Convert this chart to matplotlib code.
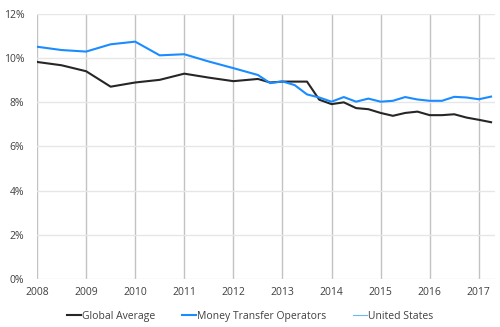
import numpy as np
import matplotlib
matplotlib.use('Agg')
import matplotlib.pyplot as plt
from matplotlib.ticker import FuncFormatter

# time points (semiannual up to 2012, then quarterly)
periods = [2008.0, 2008.5, 2009.0, 2009.5, 2010.0, 2010.5, 2011.0, 2011.5,
           2012.0, 2012.5, 2012.75, 2013.0, 2013.25, 2013.5, 2013.75,
           2014.0, 2014.25, 2014.5, 2014.75, 2015.0, 2015.25, 2015.5, 2015.75,
           2016.0, 2016.25, 2016.5, 2016.75, 2017.0, 2017.25]

global_average = [9.83, 9.68, 9.41, 8.71, 8.90, 9.02, 9.30, 9.12,
                  8.96, 9.06, 8.90, 8.94, 8.94, 8.94, 8.12,
                  7.92, 8.00, 7.74, 7.69, 7.52, 7.39, 7.52, 7.58,
                  7.42, 7.42, 7.46, 7.31, 7.21, 7.10]

money_transfer = [10.52, 10.37, 10.30, 10.63, 10.75, 10.13, 10.18, 9.85,
                  9.55, 9.24, 8.87, 8.95, 8.78, 8.36, 8.22,
                  8.03, 8.24, 8.03, 8.17, 8.03, 8.07, 8.24, 8.13,
                  8.07, 8.07, 8.25, 8.22, 8.14, 8.26]

nan = np.nan
united_states = [nan, nan, nan, nan, nan, nan, nan, nan,
                 6.83, nan, nan, nan, nan, nan, nan,
                 nan, nan, nan, nan, nan, nan, nan, nan,
                 6.08, nan, nan, nan, 5.73, nan]

year_ticks = list(range(2008, 2018))
y_ticks = [0, 2, 4, 6, 8, 10, 12]

plt.rcParams['font.family'] = ['Open Sans', 'DejaVu Sans']

fig = plt.figure(figsize=(5, 3.27), dpi=100)
ax = fig.add_axes([0.074, 0.147, 0.916, 0.81])

ax.plot(periods, global_average, color='#262626', lw=1.5, label='Global Average')
ax.plot(periods, money_transfer, color='#1a8cff', lw=1.5, label='Money Transfer Operators')
# US only has isolated points, barely visible
ax.plot(periods, united_states, color='#6cb8ee', lw=0.8, label='United States')
ax.plot(periods, united_states, ls='none', marker='o', ms=0.7, mew=0,
        color='#8cc8f0', label='_nolegend_')

ax.set_xlim(2008, 2017.33)
ax.set_ylim(0, 12)
ax.set_xticks(year_ticks)
ax.set_yticks(y_ticks)
ax.yaxis.set_major_formatter(FuncFormatter(lambda v, p: f'{int(v)}%'))

ax.grid(axis='y', color='#e6e6e6', lw=1.0)
ax.grid(axis='x', color='#c2c2c2', lw=1.0)
ax.set_axisbelow(True)
for s in ax.spines.values():
    s.set_visible(False)
ax.tick_params(length=0, labelsize=7.5, colors='#404040', pad=6)
ax.tick_params(axis='y', pad=9)

leg = fig.legend(loc='center', bbox_to_anchor=(0.5, 0.033), ncol=3, frameon=False,
                 fontsize=7.5, handlelength=1.3, handletextpad=0.1, columnspacing=2.6)
for t in leg.get_texts():
    t.set_color('#404040')

fig.savefig('out.png', dpi=100)
